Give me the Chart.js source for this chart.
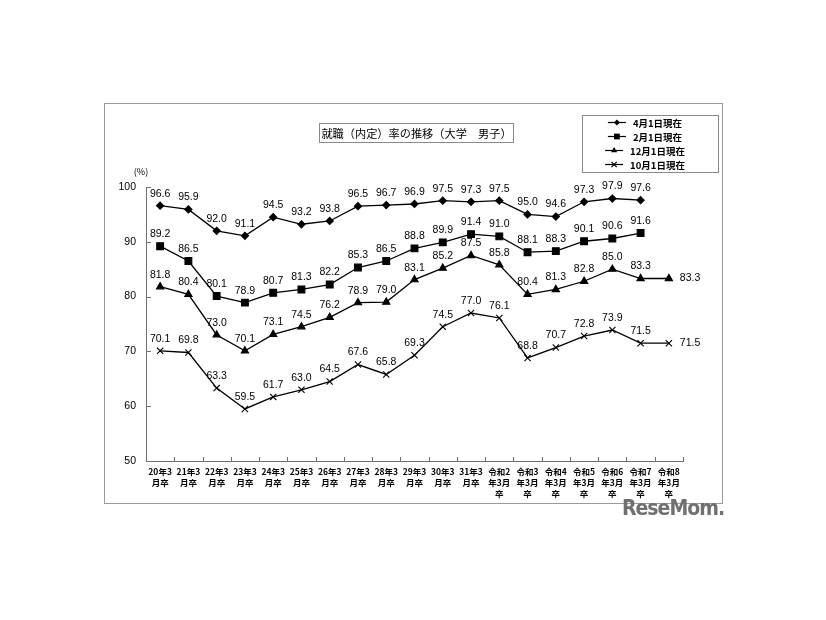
<!DOCTYPE html>
<html>
<head>
<meta charset="utf-8">
<script src="https://cdn.jsdelivr.net/npm/chart.js@4.4.1/dist/chart.umd.min.js"></script>
<style>
  html, body { margin: 0; padding: 0; background: #fff; }
  #wrap { position: relative; width: 826px; height: 620px; }
  #logo { position: absolute; left: 622px; top: 496px; font: bold 21px "DejaVu Sans Condensed", "Liberation Sans Narrow", sans-serif; color: #707070; letter-spacing: -1px; }
</style>
</head>
<body>
<div id="wrap">
  <canvas id="chart" width="826" height="620"></canvas>
  <div id="logo">ReseMom.</div>
</div>
<script>
// categories (graduation years)
const categories = [
  ["20年3", "月卒"], ["21年3", "月卒"], ["22年3", "月卒"], ["23年3", "月卒"],
  ["24年3", "月卒"], ["25年3", "月卒"], ["26年3", "月卒"], ["27年3", "月卒"],
  ["28年3", "月卒"], ["29年3", "月卒"], ["30年3", "月卒"], ["31年3", "月卒"],
  ["令和2", "年3月", "卒"], ["令和3", "年3月", "卒"], ["令和4", "年3月", "卒"],
  ["令和5", "年3月", "卒"], ["令和6", "年3月", "卒"], ["令和7", "年3月", "卒"],
  ["令和8", "年3月", "卒"]
];

const seriesNames = ["4月1日現在", "2月1日現在", "12月1日現在", "10月1日現在"];

// rates (%)
const april1 = [96.6, 95.9, 92.0, 91.1, 94.5, 93.2, 93.8, 96.5, 96.7, 96.9, 97.5, 97.3, 97.5, 95.0, 94.6, 97.3, 97.9, 97.6, null];
const feb1   = [89.2, 86.5, 80.1, 78.9, 80.7, 81.3, 82.2, 85.3, 86.5, 88.8, 89.9, 91.4, 91.0, 88.1, 88.3, 90.1, 90.6, 91.6, null];
const dec1   = [81.8, 80.4, 73.0, 70.1, 73.1, 74.5, 76.2, 78.9, 79.0, 83.1, 85.2, 87.5, 85.8, 80.4, 81.3, 82.8, 85.0, 83.3, 83.3];
const oct1   = [70.1, 69.8, 63.3, 59.5, 61.7, 63.0, 64.5, 67.6, 65.8, 69.3, 74.5, 77.0, 76.1, 68.8, 70.7, 72.8, 73.9, 71.5, 71.5];

const yTicks = [50, 60, 70, 80, 90, 100];

const markers = ["rectRot", "rect", "triangle", "crossRot"];
const markerSizes = [3.6, 4.8, 4.2, 4.4];

// small marker drawer for the legend samples
function drawMarker(ctx, style, x, y, r) {
  ctx.beginPath();
  if (style === "rectRot") {
    ctx.moveTo(x, y - r); ctx.lineTo(x + r, y); ctx.lineTo(x, y + r); ctx.lineTo(x - r, y); ctx.closePath(); ctx.fill();
  } else if (style === "rect") {
    const s = r * Math.SQRT1_2;
    ctx.fillRect(x - s, y - s, 2 * s, 2 * s);
  } else if (style === "triangle") {
    ctx.moveTo(x, y - r); ctx.lineTo(x + r * 0.866, y + r * 0.5); ctx.lineTo(x - r * 0.866, y + r * 0.5); ctx.closePath(); ctx.fill();
  } else {
    const o = r * Math.SQRT1_2;
    ctx.moveTo(x - o, y - o); ctx.lineTo(x + o, y + o);
    ctx.moveTo(x + o, y - o); ctx.lineTo(x - o, y + o);
    ctx.stroke();
  }
}

// value labels above each point
const valueLabels = {
  id: "valueLabels",
  afterDatasetsDraw(chart) {
    const ctx = chart.ctx;
    ctx.save();
    ctx.font = '10.5px "Liberation Sans", Arial, sans-serif';
    ctx.fillStyle = "#000";
    ctx.textBaseline = "middle";
    chart.data.datasets.forEach((ds, i) => {
      const meta = chart.getDatasetMeta(i);
      meta.data.forEach((pt, j) => {
        const v = ds.data[j];
        if (v == null) return;
        const last = j === ds.data.length - 1;
        ctx.textAlign = last ? "left" : "center";
        ctx.fillText(v.toFixed(1), last ? pt.x + 11 : pt.x, last ? pt.y : pt.y - 12);
      });
    });
    ctx.restore();
  }
};

// frame, title box, legend box, inside ticks, unit label
const decorations = {
  id: "decorations",
  afterDraw(chart) {
    const ctx = chart.ctx;
    const xs = chart.scales.x, ys = chart.scales.y;
    ctx.save();

    // outer frame
    ctx.strokeStyle = "#9a9a9a";
    ctx.lineWidth = 1;
    ctx.strokeRect(104.5, 103.5, 618, 400);

    // inside tick marks
    ctx.strokeStyle = "#707070";
    ctx.beginPath();
    yTicks.forEach(v => {
      const y = Math.round(ys.getPixelForValue(v)) + 0.5;
      ctx.moveTo(xs.left, y); ctx.lineTo(xs.left + 5, y);
    });
    for (let k = 0; k <= categories.length; k++) {
      let x;
      if (k === 0) x = xs.left;
      else if (k === categories.length) x = xs.right;
      else x = (xs.getPixelForValue(k - 1) + xs.getPixelForValue(k)) / 2;
      x = Math.round(x) + 0.5;
      ctx.moveTo(x, ys.bottom); ctx.lineTo(x, ys.bottom - 4);
    }
    ctx.stroke();

    // unit label
    ctx.fillStyle = "#000";
    ctx.font = '9px "Noto Sans CJK JP", sans-serif';
    ctx.textAlign = "center";
    ctx.textBaseline = "middle";
    ctx.fillText("(%)", 141, 172);

    // title box
    ctx.strokeStyle = "#8a8a8a";
    ctx.strokeRect(319.5, 123.5, 194, 19);
    ctx.font = '11.2px "Noto Sans CJK JP", sans-serif';
    ctx.fillText("就職（内定）率の推移（大学　男子）", 416.5, 133.5);

    // legend box
    ctx.strokeRect(582.5, 115.5, 136, 57);
    ctx.font = 'bold 9.5px "Noto Sans CJK JP", sans-serif';
    ctx.textAlign = "left";
    seriesNames.forEach((name, i) => {
      const y = 122.5 + i * 14;
      const tw = ctx.measureText(name).width;
      const total = 18 + 7 + tw;
      const x0 = 645 - total / 2;
      ctx.strokeStyle = "#000";
      ctx.lineWidth = 1.2;
      ctx.beginPath();
      ctx.moveTo(x0, y); ctx.lineTo(x0 + 18, y);
      ctx.stroke();
      ctx.fillStyle = "#000";
      drawMarker(ctx, markers[i], x0 + 9, y, markerSizes[i] * 0.85);
      ctx.fillText(name, x0 + 25, y + 0.5);
    });

    ctx.restore();
  }
};

const seriesData = [april1, feb1, dec1, oct1];

new Chart(document.getElementById("chart"), {
  type: "line",
  data: {
    labels: categories,
    datasets: seriesData.map((d, i) => ({
      label: seriesNames[i],
      data: d,
      borderColor: "#000",
      borderWidth: 1.3,
      backgroundColor: "#000",
      pointStyle: markers[i],
      pointRadius: markerSizes[i],
      pointBackgroundColor: "#000",
      pointBorderColor: "#000",
      pointBorderWidth: 1.1,
      tension: 0,
      spanGaps: false
    }))
  },
  options: {
    responsive: false,
    animation: false,
    devicePixelRatio: 1,
    layout: { padding: { left: 106, right: 143, top: 187, bottom: 119 } },
    plugins: {
      legend: { display: false },
      title: { display: false },
      tooltip: { enabled: false }
    },
    scales: {
      x: {
        offset: true,
        grid: { display: false, drawTicks: false, offset: true },
        border: { display: true, color: "#707070", width: 1 },
        ticks: {
          autoSkip: false,
          maxRotation: 0,
          minRotation: 0,
          padding: 5,
          color: "#000",
          font: { family: '"Noto Sans CJK JP", sans-serif', size: 8.5, weight: "bold", lineHeight: 1.3 }
        },
        afterFit(scale) { scale.height = 40; }
      },
      y: {
        min: 50,
        max: 100,
        grid: { display: false, drawTicks: false },
        border: { display: true, color: "#707070", width: 1 },
        ticks: {
          stepSize: 10,
          padding: 10,
          color: "#000",
          font: { family: '"Liberation Sans", Arial, sans-serif', size: 10.5 }
        },
        afterFit(scale) { scale.width = 40; }
      }
    }
  },
  plugins: [valueLabels, decorations]
});
</script>
</body>
</html>
